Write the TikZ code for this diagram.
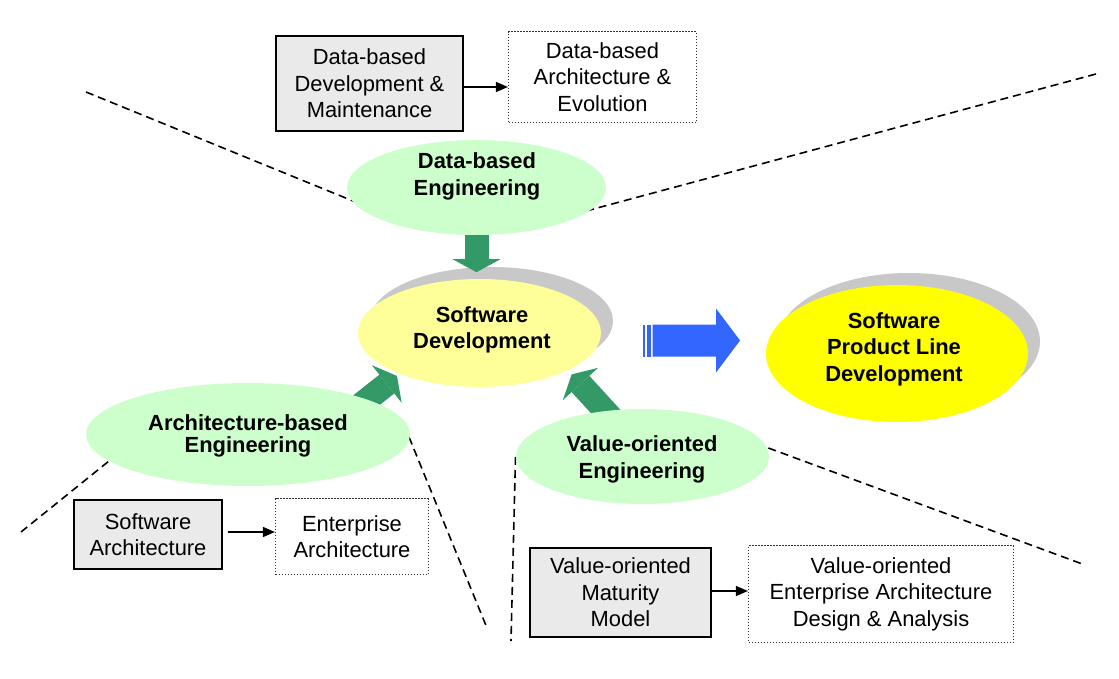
\documentclass[tikz,border=0pt]{standalone}
\usepackage{fontspec}
\setmainfont{Liberation Sans}
\usetikzlibrary{arrows.meta,shapes.geometric,backgrounds,calc}
\definecolor{lgreen}{HTML}{CCFFCC}
\definecolor{dgreen}{HTML}{339966}
\definecolor{lyellow}{HTML}{FFFF99}
\definecolor{byellow}{HTML}{FFFF00}
\definecolor{shgray}{HTML}{C8C8C8}
\definecolor{boxgray}{HTML}{EAEAEA}
\definecolor{barrow}{HTML}{3366FF}
\definecolor{dotgray}{HTML}{303030}
\newcommand\mygreenarrow[2]{%
  \coordinate (tmpb) at ($(#2)!13pt!(#1)$);
  \draw[dgreen,line width=24pt] (#1) -- (tmpb);
  \fill[dgreen] (#2) -- ($(tmpb)!24pt!90:(#2)$) -- ($(tmpb)!24pt!-90:(#2)$) -- cycle;
}
\begin{document}
\begin{tikzpicture}[x=1pt,y=-1pt,
  every node/.style={font=\fontsize{21.9}{26.5}\selectfont, inner sep=0pt, align=center},
  solidbox/.style={rectangle, draw=black, line width=2.4pt, fill=boxgray},
  dotbox/.style={rectangle, draw=dotgray, line width=1.5pt, dash pattern=on 1.5pt off 1.5pt, fill=white},
  ell/.style={ellipse, draw=none},
  btext/.style={font=\fontsize{21.9}{26.5}\selectfont\bfseries},
  dline/.style={draw=black, line width=1.6pt, dash pattern=on 8pt off 5pt},
  sarrow/.style={draw=black, line width=1.5pt, -{Triangle[width=10pt,length=12pt]}},
]
\useasboundingbox (0,0) rectangle (1119,679);

% boxes
\node[solidbox, minimum width=186.6pt, minimum height=94.6pt] (dm) at (369.5,83.5) {Data-based\\Development \&\\Maintenance};
\node[dotbox, minimum width=187.7pt, minimum height=90.7pt] (dae) at (602.5,77) {Data-based\\Architecture \&\\Evolution};
\node[solidbox, minimum width=147.6pt, minimum height=68.6pt] (sa) at (148,534.5) {Software\\Architecture};
\node[dotbox, minimum width=152.7pt, minimum height=75.7pt] (ea) at (352,536.5) {Enterprise\\Architecture};
\node[solidbox, minimum width=180.6pt, minimum height=88.6pt] (vmm) at (620.5,592.5) {Value-oriented\\Maturity\\Model};
\node[dotbox, minimum width=264.7pt, minimum height=96.7pt] (vea) at (881,594) {Value-oriented\\Enterprise Architecture\\Design \& Analysis};

% ellipses
\node[ell, fill=lgreen, minimum width=259pt, minimum height=95pt] (de) at (476.5,187.5) {};
\node[ell, fill=lyellow, minimum width=243pt, minimum height=108pt] (sd) at (479.5,333) {};
\node[ell, fill=byellow, minimum width=262pt, minimum height=137pt] (spl) at (897,353.5) {};
\node[ell, fill=lgreen, minimum width=324pt, minimum height=103pt] (arch) at (248,434.5) {};
\node[ell, fill=lgreen, minimum width=253pt, minimum height=95pt] (vo) at (642.5,456.5) {};

% ellipse texts
\node[btext] (detext) at (477,176.5) {Data-based\\Engineering};
\node[btext] (sdtext) at (482,330) {Software\\Development};
\node[btext] (spltext) at (894,349) {Software\\Product Line\\Development};
\node[btext, font=\fontsize{21.9}{22.7}\selectfont\bfseries] (archtext) at (248,436) {Architecture-based\\Engineering};
\node[btext] (votext) at (642,459.5) {Value-oriented\\Engineering};

% small arrows between boxes
\coordinate (dmA) at ($(dm.east)+(0,3.5)$);
\draw[sarrow] (dmA) -- (dmA -| dae.west);
\coordinate (saA) at ($(sa.east)+(5,-2.5)$);
\draw[sarrow] (saA) -- (saA -| ea.west);
\coordinate (vmmA) at ($(vmm.east)+(0,-1.5)$);
\draw[sarrow] (vmmA) -- (vmmA -| vea.west);

% blue striped arrow
\fill[barrow] (652.5,324.5) -- (716,324.5) -- (716,308.5) -- (740,340.5) -- (716,372.5) -- (716,356.5) -- (652.5,356.5) -- cycle;
\fill[barrow] (642.5,324.5) rectangle (645,356.5);
\fill[barrow] (647,324.5) rectangle (651,356.5);

% free ends
\coordinate (d1a) at (86,92);    \coordinate (d1b) at (380,212);
\coordinate (d2a) at (1096,74);  \coordinate (d2b) at (560,218);
\coordinate (d3a) at (21,532);   \coordinate (d3b) at (140,436);
\coordinate (d4a) at (409,437);  \coordinate (d4b) at (487,628);
\coordinate (d5a) at (515.5,457);\coordinate (d5b) at (511,641);
\coordinate (d6a) at (744,439);  \coordinate (d6b) at (1085,565);
\coordinate (a1t) at ($(de.south)+(0,37)$);
\coordinate (a2s) at (342,419.5); \coordinate (a2t) at (397,376);
\coordinate (a3s) at (619,426);   \coordinate (a3t) at (571.7,374.4);

\begin{scope}[on background layer]
  \fill[white] (0,0) rectangle (1119,679);
  \fill[shgray] ([shift={(12pt,12pt)}]sd.center) ellipse [x radius=121.5pt, y radius=54pt];
  \fill[shgray] ([shift={(12pt,12pt)}]spl.center) ellipse [x radius=131pt, y radius=68.5pt];
  \draw[dline] (d1a) -- (d1b);
  \draw[dline] (d2a) -- (d2b);
  \draw[dline] (d3a) -- (d3b);
  \draw[dline] (d4a) -- (d4b);
  \draw[dline] (d5a) -- (d5b);
  \draw[dline] (d6a) -- (d6b);
  \mygreenarrow{de.center}{a1t}
  \mygreenarrow{a2s}{a2t}
  \mygreenarrow{a3s}{a3t}
\end{scope}
\end{tikzpicture}
\end{document}
